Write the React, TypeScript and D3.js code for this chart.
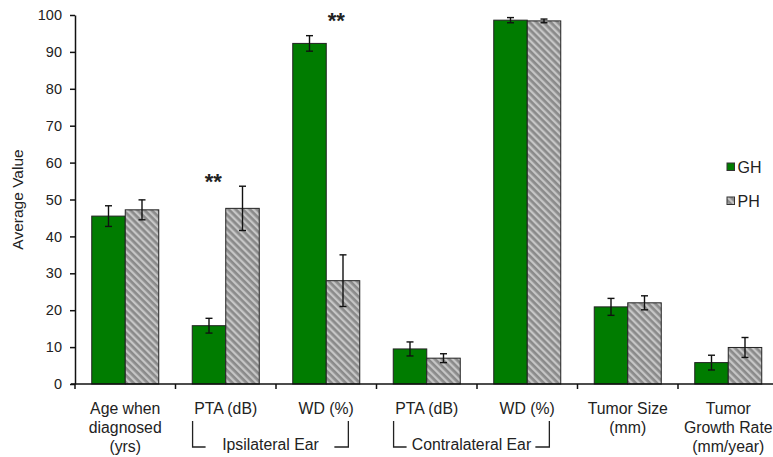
import React, { useRef, useEffect } from 'react';
import * as d3 from 'd3';

// values
const categories = ["age", "ptaIpsi", "wdIpsi", "ptaContra", "wdContra", "size", "growth"];
const categoryLabels = [
  ["Age when", "diagnosed", "(yrs)"],
  ["PTA (dB)"],
  ["WD (%)"],
  ["PTA (dB)"],
  ["WD (%)"],
  ["Tumor Size", "(mm)"],
  ["Tumor", "Growth Rate", "(mm/year)"],
];
const ghMeans = [45.5, 15.8, 92.3, 9.5, 98.6, 20.9, 5.8];
const ghErrors = [2.8, 2.0, 2.1, 1.9, 0.7, 2.3, 2.0];
const phMeans = [47.2, 47.6, 28.0, 7.0, 98.4, 22.0, 9.9];
const phErrors = [2.7, 6.0, 7.0, 1.2, 0.5, 1.9, 2.7];
const yTicks = [0, 10, 20, 30, 40, 50, 60, 70, 80, 90, 100];
const earGroups = [
  { label: "Ipsilateral Ear", from: "ptaIpsi", to: "wdIpsi" },
  { label: "Contralateral Ear", from: "ptaContra", to: "wdContra" },
];
const significance = [
  { cat: "ptaIpsi", value: 52.8, dx: -12.5 },
  { cat: "wdIpsi", value: 96.5, dx: 10 },
];
const seriesNames = ["GH", "PH"];

function App() {
  const ref = useRef(null);

  useEffect(() => {
    const width = 773;
    const marginLeft = 75;
    const font = "'Liberation Sans', Arial, sans-serif";
    const green = "#007c00";

    const svg = d3.select(ref.current);
    svg.selectAll("*").remove();

    const defs = svg.append("defs");
    const pat = defs.append("pattern")
      .attr("id", "hatch")
      .attr("patternUnits", "userSpaceOnUse")
      .attr("width", 5)
      .attr("height", 5)
      .attr("patternTransform", "rotate(-45)");
    pat.append("rect").attr("width", 5).attr("height", 5).attr("fill", "#8a8a8a");
    pat.append("rect").attr("width", 2.3).attr("height", 5).attr("fill", "#c6c6c6");

    const x = d3.scaleBand().domain(categories).range([marginLeft, marginLeft + 7 * 100.5]).padding(0);
    const y = d3.scaleLinear().domain([0, 100]).range([384, 15]);
    const bw = x.bandwidth();
    const barW = bw / 3;

    // y axis
    const yAxis = d3.axisLeft(y).tickValues(yTicks).tickSize(5).tickSizeOuter(0).tickPadding(8);
    svg.append("g")
      .attr("transform", `translate(${marginLeft},0)`)
      .call(yAxis)
      .call(g => g.select(".domain").attr("stroke", "#111").attr("stroke-width", 1.5))
      .call(g => g.selectAll(".tick line").attr("stroke", "#111").attr("stroke-width", 1.5))
      .call(g => g.selectAll(".tick text")
        .attr("font-family", font).attr("font-size", 14.5).attr("fill", "#222"));

    svg.append("text")
      .attr("transform", `translate(23,${(y(0) + y(100)) / 2}) rotate(-90)`)
      .attr("text-anchor", "middle")
      .attr("font-family", font)
      .attr("font-size", 15.5)
      .attr("fill", "#222")
      .text("Average Value");

    // bars
    const series = [
      { means: ghMeans, errors: ghErrors, fill: green, off: bw / 6 },
      { means: phMeans, errors: phErrors, fill: "url(#hatch)", off: bw / 2 },
    ];
    series.forEach(s => {
      const g = svg.append("g");
      g.selectAll("rect")
        .data(categories)
        .join("rect")
        .attr("x", (c) => x(c) + s.off)
        .attr("y", (c, i) => y(s.means[i]))
        .attr("width", barW)
        .attr("height", (c, i) => y(0) - y(s.means[i]))
        .attr("fill", s.fill)
        .attr("stroke", "#222")
        .attr("stroke-width", 1);
      const eb = svg.append("g").attr("stroke", "#111").attr("stroke-width", 1.4);
      categories.forEach((c, i) => {
        const cx = x(c) + s.off + barW / 2;
        const top = y(s.means[i] + s.errors[i]);
        const bot = y(s.means[i] - s.errors[i]);
        eb.append("line").attr("x1", cx).attr("x2", cx).attr("y1", top).attr("y2", bot);
        eb.append("line").attr("x1", cx - 3.5).attr("x2", cx + 3.5).attr("y1", top).attr("y2", top);
        eb.append("line").attr("x1", cx - 3.5).attr("x2", cx + 3.5).attr("y1", bot).attr("y2", bot);
      });
    });

    // x axis
    const xg = svg.append("g").attr("stroke", "#111").attr("stroke-width", 1.5);
    xg.append("line").attr("x1", marginLeft - 4).attr("x2", width + 10).attr("y1", y(0)).attr("y2", y(0));
    categories.forEach(c => {
      xg.append("line").attr("x1", x(c)).attr("x2", x(c)).attr("y1", y(0)).attr("y2", y(0) + 5);
    });

    // category labels
    categories.forEach((c, i) => {
      const t = svg.append("text")
        .attr("text-anchor", "middle")
        .attr("font-family", font)
        .attr("font-size", 15.8)
        .attr("fill", "#222");
      categoryLabels[i].forEach((line, k) => {
        t.append("tspan").attr("x", x(c) + bw / 2).attr("y", 414 + k * 19).text(line);
      });
    });

    // ear brackets
    earGroups.forEach(gp => {
      const left = x(gp.from) + bw * 0.17;
      const right = x(gp.to) + bw * 0.72;
      const top = 421;
      const bot = 447;
      const b = svg.append("g").attr("stroke", "#222").attr("stroke-width", 1.3).attr("fill", "none");
      b.append("path").attr("d", `M${left},${top}V${bot}H${left + 13}`);
      b.append("path").attr("d", `M${right},${top}V${bot}H${right - 14}`);
      svg.append("text")
        .attr("x", (left + right) / 2)
        .attr("y", 450)
        .attr("text-anchor", "middle")
        .attr("font-family", font)
        .attr("font-size", 15.8)
        .attr("fill", "#222")
        .text(gp.label);
    });

    // significance stars
    significance.forEach(s => {
      svg.append("text")
        .attr("x", x(s.cat) + bw / 2 + s.dx)
        .attr("y", y(s.value))
        .attr("text-anchor", "middle")
        .attr("font-family", font)
        .attr("font-size", 22)
        .attr("font-weight", "bold")
        .attr("fill", "#222")
        .text("**");
    });

    // legend
    const lg = svg.append("g").attr("transform", "translate(727,163)");
    seriesNames.forEach((name, i) => {
      lg.append("rect")
        .attr("x", 0).attr("y", i * 34)
        .attr("width", 7.5).attr("height", 7.5)
        .attr("fill", i === 0 ? green : "url(#hatch)")
        .attr("stroke", "#333").attr("stroke-width", 1);
      lg.append("text")
        .attr("x", 10.5).attr("y", i * 34 + 10)
        .attr("font-family", font)
        .attr("font-size", 16)
        .attr("fill", "#222")
        .text(name);
    });
  }, []);

  return (
    <svg ref={ref} width={773} height={457}
      style={{ position: "absolute", left: 0, top: 0, background: "#fff" }} />
  );
}

export default App;
